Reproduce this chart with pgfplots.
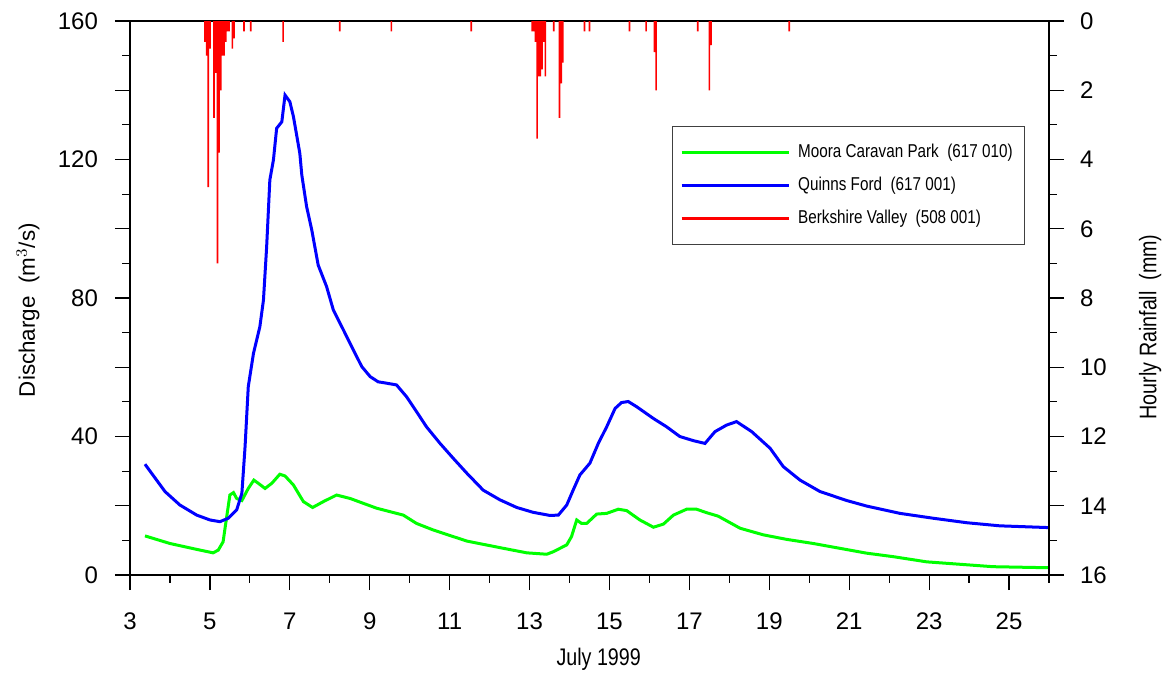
\documentclass[border=0pt]{standalone}
\usepackage{fontspec}
\setmainfont{Liberation Sans}
\newfontfamily\narrowfont[FakeStretch=0.82]{Liberation Sans}
\usepackage{pgfplots}
\pgfplotsset{compat=1.18}
\begin{document}
\begin{tikzpicture}
\pgfplotsset{
  common/.style={
    scale only axis, width=459.5pt, height=277pt,
    xmin=3, xmax=26,
    tick align=outside,
    major tick length=7.5pt, minor tick length=3.8pt,
    every tick/.style={black, line width=0.6pt},
    /pgf/number format/assume math mode=true,
    tick label style={font=\fontsize{12}{14}\selectfont},
  }
}
\begin{axis}[common,
  axis line style={black, line width=0.6pt},
  ymin=0, ymax=160,
  xtick={3,5,...,25}, minor xtick={4,6,...,26},
  xtick pos=bottom, ytick pos=left,
  ytick={0,40,...,160}, extra y ticks={20,60,100,140}, extra y tick labels={},
  extra y tick style={ytick pos=left},
  minor ytick={10,30,...,150},
  yticklabel style={xshift=-5pt},
  xticklabel style={yshift=-8pt},
  xlabel={July 1999},
  xlabel style={at={(axis description cs:0.51,-0.153)}, anchor=center, font=\fontsize{12}{14}\narrowfont},
  ylabel={Discharge\ \ (m$^{3}$/s)},
  ylabel style={at={(axis description cs:-0.111,0.478)}, anchor=center, font=\fontsize{11.2}{13}\selectfont},
]
\addplot[green, line width=1.5pt] coordinates {
(3.375,11.3) (4.0,9.1) (4.67,7.4) (5.08,6.4) (5.21,7.2) (5.33,9.6) (5.42,16.8)
(5.50,23.1) (5.59,23.8) (5.67,22.1) (5.80,21.5) (5.96,25.0) (6.10,27.4) (6.21,26.5)
(6.38,25.0) (6.55,26.5) (6.75,29.1) (6.88,28.6) (7.09,26.0) (7.34,21.2) (7.57,19.5)
(7.84,21.2) (8.17,23.1) (8.51,22.1) (9.17,19.3) (9.84,17.3) (10.17,14.9) (10.59,13.0)
(11.01,11.4) (11.43,9.8) (12.26,7.9) (12.93,6.4) (13.43,6.0) (13.59,6.7) (13.93,8.7)
(14.05,11.1) (14.18,15.9) (14.30,14.9) (14.43,14.9) (14.68,17.6) (14.93,17.8) (15.22,19.0)
(15.43,18.6) (15.76,15.9) (16.10,13.8) (16.35,14.7) (16.60,17.3) (16.93,19.0) (17.18,19.0)
(17.43,18.0) (17.72,17.0) (18.27,13.5) (18.85,11.6) (19.43,10.3) (20.10,9.1) (20.77,7.7)
(21.44,6.3) (22.10,5.3) (22.94,3.8) (23.77,3.1) (24.60,2.4) (25.98,2.1)
};
\addplot[blue, line width=1.5pt] coordinates {
(3.375,32.0) (3.876,24.1) (4.25,20.2) (4.67,17.3) (5.0,15.9) (5.25,15.4) (5.46,16.4)
(5.67,18.8) (5.80,23.6) (5.88,37.1) (5.96,54.4) (6.09,64.0) (6.25,71.7) (6.34,79.4)
(6.42,94.8) (6.50,114.1) (6.59,119.9) (6.67,129.0) (6.80,130.9) (6.88,138.6) (7.00,136.7)
(7.09,132.4) (7.25,121.8) (7.30,115.5) (7.42,106.4) (7.55,99.6) (7.71,89.5) (7.92,83.3)
(8.09,76.5) (8.34,70.8) (8.55,65.9) (8.80,60.2) (9.01,57.3) (9.21,55.8) (9.42,55.4)
(9.67,54.9) (9.92,51.5) (10.17,47.2) (10.42,42.8) (10.76,38.0) (11.09,33.7) (11.43,29.4)
(11.84,24.5) (12.26,21.7) (12.68,19.5) (13.09,18.1) (13.51,17.2) (13.72,17.3) (13.93,20.2)
(14.09,24.5) (14.26,28.9) (14.51,32.3) (14.72,38.0) (14.93,42.8) (15.14,48.1) (15.30,49.8)
(15.47,50.1) (15.68,48.6) (16.10,45.2) (16.43,42.8) (16.76,40.0) (17.10,38.8) (17.39,38.0)
(17.64,41.4) (17.93,43.3) (18.18,44.3) (18.56,41.4) (19.02,36.6) (19.35,31.3) (19.77,27.4)
(20.27,24.1) (20.94,21.5) (21.44,19.9) (22.27,17.8) (23.10,16.4) (23.94,15.1) (24.77,14.2)
(25.98,13.7)
};
\end{axis}
\begin{axis}[common,
  axis x line=none, axis y line*=right,
  axis line style={black, line width=0.6pt},
  y dir=reverse, ymin=0, ymax=16,
  ytick={0,2,...,16}, minor ytick={1,3,...,15},
  yticklabel style={xshift=4.5pt},
  ylabel={Hourly Rainfall\ \ (mm)},
  ylabel style={at={(axis description cs:1.110,0.448)}, anchor=center, font=\fontsize{12}{14}\narrowfont},
  legend cell align=left,
  legend style={at={(axis description cs:0.5894,0.811)}, anchor=north west,
    draw=black!75, line width=0.5pt, font=\fontsize{9.3}{11}\narrowfont,
    inner xsep=4pt, inner ysep=7pt, row sep=4.2pt, column sep=2pt,
    nodes={inner sep=2pt}},
  legend image code/.code={\draw[#1] (0pt,0pt) -- (53.5pt,0pt);},
]
\addlegendimage{green, line width=1.5pt}
\addlegendentry{Moora Caravan Park\ \ (617 010)}
\addlegendimage{blue, line width=1.5pt}
\addlegendentry{Quinns Ford\ \ (617 001)}
\addlegendimage{red, line width=1.5pt}
\addlegendentry{Berkshire Valley\ \ (508 001)}
\addplot[ybar, bar width=0.0417, fill=red, draw=none, forget plot] coordinates {
(4.875,0.6) (4.917,1.0) (4.958,4.8) (5.000,0.8) (5.104,2.8) (5.146,1.5) (5.188,7.0)
(5.229,3.8) (5.271,2.0) (5.313,1.0) (5.354,1.0) (5.396,0.6) (5.438,0.3) (5.479,0.3)
(5.563,0.8) (5.604,0.5) (5.854,0.3) (6.021,0.3) (6.833,0.6) (8.250,0.3) (9.542,0.3)
(11.542,0.3) (13.063,0.3) (13.104,0.3) (13.146,0.6) (13.188,3.4) (13.229,1.6) (13.271,1.6)
(13.313,1.4) (13.354,0.6) (13.396,1.6) (13.604,0.3) (13.750,2.8) (13.792,1.8) (13.833,1.2)
(14.375,0.3) (14.500,0.3) (15.500,0.3) (15.917,0.3) (16.125,0.9) (16.167,2.0) (17.208,0.3)
(17.500,2.0) (17.542,0.7) (19.500,0.3)
};
\end{axis}
\pgfresetboundingbox
\path[use as bounding box] (-65pt,-50pt) rectangle (520pt,287.5pt);
\end{tikzpicture}
\end{document}
